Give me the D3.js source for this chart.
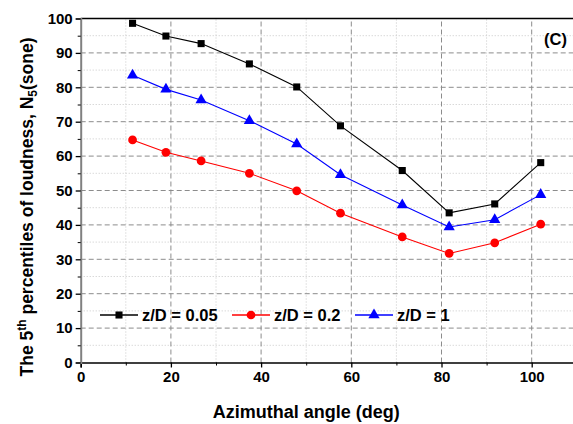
<!DOCTYPE html>
<html><head><meta charset="utf-8">
<script src="https://cdn.jsdelivr.net/npm/d3@7"></script>
<style>body{margin:0;background:#fff}svg{display:block}text{font-family:"Liberation Sans",Arial,sans-serif;font-weight:bold}</style>
</head><body>
<script>
const angles = [11.5, 18.9, 26.7, 37.4, 47.9, 57.6, 71.3, 81.7, 91.8, 102];
const s005 = [98.6, 94.9, 92.7, 86.8, 80.1, 68.8, 55.8, 43.5, 46.1, 58.1];
const s02 = [64.7, 61.1, 58.6, 55.0, 49.9, 43.4, 36.5, 31.7, 34.8, 40.2];
const s1 = [83.5, 79.4, 76.3, 70.3, 63.5, 54.6, 45.8, 39.4, 41.5, 48.8];
const seriesNames = ["z/D = 0.05", "z/D = 0.2", "z/D = 1"];
const xTicks = [0, 20, 40, 60, 80, 100];
const yTicks = [0, 10, 20, 30, 40, 50, 60, 70, 80, 90, 100];

const W = 573, H = 424;
const svg = d3.select("body").append("svg").attr("width", W).attr("height", H);
const x = d3.scaleLinear().domain([0, 110]).range([80.7, 576.8]);
const y = d3.scaleLinear().domain([0, 100]).range([362.5, 18.5]);

const g = svg.append("g");
// minor grid
const xMinor = d3.range(10, 111, 20), yMinor = d3.range(5, 100, 10);
g.selectAll(".vxm").data(xMinor).join("line").attr("x1", d => x(d)).attr("x2", d => x(d))
  .attr("y1", y(0)).attr("y2", y(100)).attr("stroke", "#c8c8c8").attr("stroke-width", 1).attr("stroke-dasharray", "1,2");
g.selectAll(".hym").data(yMinor).join("line").attr("y1", d => y(d)).attr("y2", d => y(d))
  .attr("x1", x(0)).attr("x2", W).attr("stroke", "#c8c8c8").attr("stroke-width", 1).attr("stroke-dasharray", "1,2");
// major grid
g.selectAll(".vx").data(xTicks.filter(d => d > 0)).join("line").attr("x1", d => x(d)).attr("x2", d => x(d))
  .attr("y1", y(0)).attr("y2", y(100)).attr("stroke", "#8c8c8c").attr("stroke-width", 1).attr("stroke-dasharray", "5,3");
g.selectAll(".hy").data(yTicks.filter(d => d > 0 && d < 100)).join("line").attr("y1", d => y(d)).attr("y2", d => y(d))
  .attr("x1", x(0)).attr("x2", W).attr("stroke", "#8c8c8c").attr("stroke-width", 1).attr("stroke-dasharray", "5,3");

// top border
svg.append("line").attr("x1", x(0)).attr("x2", W).attr("y1", y(100)).attr("y2", y(100)).attr("stroke", "#000").attr("stroke-width", 1.3);

// axes
const xAxis = d3.axisBottom(x).tickValues(xTicks).tickSize(5).tickPadding(4);
const xa = svg.append("g").attr("transform", `translate(0,${y(0)})`).call(xAxis);
xa.select(".domain").attr("stroke", "#000").attr("stroke-width", 1.5);
xa.selectAll("text").attr("font-size", 15).attr("fill", "#000").style("font-weight", "bold");
xa.selectAll(".tick line").attr("stroke-width", 1.3);
svg.append("g").attr("transform", `translate(0,${y(0)})`).call(d3.axisBottom(x).tickValues(xMinor).tickSize(3).tickFormat(""))
  .call(s => s.select(".domain").remove());

const yAxis = d3.axisLeft(y).tickValues(yTicks).tickSize(5).tickPadding(3);
const ya = svg.append("g").attr("transform", `translate(${x(0)},0)`).call(yAxis);
ya.select(".domain").attr("stroke", "#808080").attr("stroke-width", 2);
ya.selectAll("text").attr("font-size", 15).attr("fill", "#000").style("font-weight", "bold");
ya.selectAll(".tick line").attr("stroke-width", 1.3);
svg.append("g").attr("transform", `translate(${x(0)},0)`).call(d3.axisLeft(y).tickValues(yMinor).tickSize(3).tickFormat(""))
  .call(s => s.select(".domain").remove());

// series
const series = [
  {name: seriesNames[0], vals: s005, color: "#000000", sym: d3.symbolSquare, size: 50},
  {name: seriesNames[1], vals: s02, color: "#ff0000", sym: d3.symbolCircle, size: 60},
  {name: seriesNames[2], vals: s1, color: "#0000ff", sym: d3.symbolTriangle, size: 55}
];
const line = d3.line().x(d => x(d[0])).y(d => y(d[1]));
series.forEach(s => {
  const pts = angles.map((a, i) => [a, s.vals[i]]);
  svg.append("path").attr("d", line(pts)).attr("fill", "none").attr("stroke", s.color).attr("stroke-width", 1.1);
  svg.selectAll(null).data(pts).join("path")
    .attr("d", d3.symbol().type(s.sym).size(s.size))
    .attr("transform", d => `translate(${x(d[0])},${y(d[1])})`)
    .attr("fill", s.color);
});

// legend
const legX = [100, 232, 355];
const legY = 315;
series.forEach((s, i) => {
  const lx = legX[i];
  svg.append("line").attr("x1", lx).attr("x2", lx + 38).attr("y1", legY).attr("y2", legY).attr("stroke", s.color).attr("stroke-width", 1.3);
  svg.append("path").attr("d", d3.symbol().type(s.sym).size(s.size)).attr("transform", `translate(${lx + 19},${legY})`).attr("fill", s.color);
  svg.append("text").attr("x", lx + 42).attr("y", legY + 6).attr("font-size", 16.5).attr("fill", "#000").text(s.name);
});

// (C)
svg.append("text").attr("x", 567).attr("y", 45).attr("text-anchor", "end").attr("font-size", 16.5).text("(C)");

// axis titles
svg.append("text").attr("x", x(50)).attr("y", 418).attr("text-anchor", "middle").attr("font-size", 18).text("Azimuthal angle (deg)");
const yt = svg.append("text").attr("transform", `translate(33,207) rotate(-90)`).attr("text-anchor", "middle").attr("font-size", 17.5);
yt.append("tspan").text("The 5");
yt.append("tspan").attr("dy", -7).attr("font-size", 12).text("th");
yt.append("tspan").attr("dy", 7).text(" percentiles of loudness, N");
yt.append("tspan").attr("dy", 4).attr("font-size", 12).text("5");
yt.append("tspan").attr("dy", -4).text("(sone)");
</script>
</body></html>
